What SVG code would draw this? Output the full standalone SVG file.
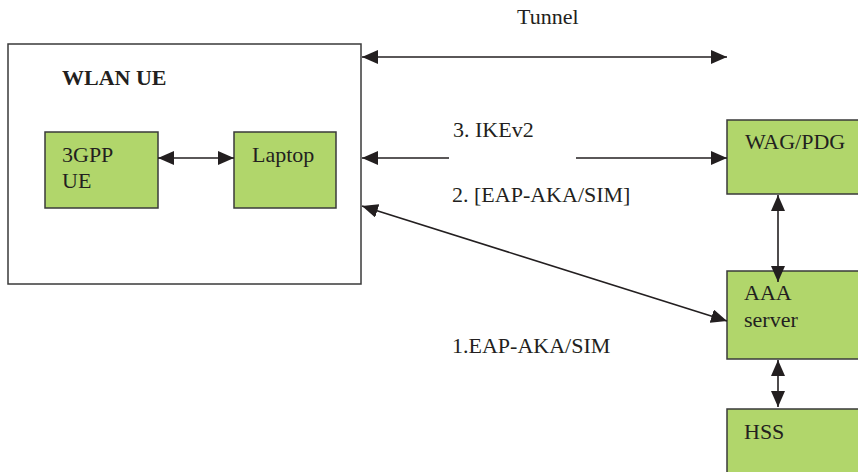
<svg xmlns="http://www.w3.org/2000/svg" width="858" height="472" viewBox="0 0 858 472">
<style>
.t{font-family:"Liberation Serif","Times New Roman",serif;font-size:22px;fill:#231f20}
.b{font-weight:bold}
.box{fill:#b1d66b;stroke:#3a3a3a;stroke-width:1.5}
.frame{fill:#fff;stroke:#3a3a3a;stroke-width:1.5}
.c{stroke:#231f20;stroke-width:1.6;fill:none}
.both{marker-start:url(#as);marker-end:url(#ae)}
</style>
<defs>
<marker id="ae" markerUnits="userSpaceOnUse" markerWidth="16" markerHeight="14" refX="16" refY="7" orient="auto"><path d="M0,0 L16,7 L0,14 Z" fill="#231f20"/></marker>
<marker id="as" markerUnits="userSpaceOnUse" markerWidth="16" markerHeight="14" refX="0" refY="7" orient="auto"><path d="M16,0 L0,7 L16,14 Z" fill="#231f20"/></marker>
</defs>
<rect width="858" height="472" fill="#fff"/>
<g id="wlan-ue">
<rect class="frame" x="8" y="44" width="353" height="240"/>
<text class="t b" x="62" y="85">WLAN UE</text>
</g>
<g id="ue3gpp">
<rect class="box" x="45" y="132" width="113" height="76"/>
<text class="t" x="62" y="162">3GPP</text>
<text class="t" x="62" y="188">UE</text>
</g>
<g id="laptop">
<rect class="box" x="234" y="132" width="102" height="76"/>
<text class="t" x="252" y="162">Laptop</text>
</g>
<g id="wag">
<rect class="box" x="727" y="120" width="140" height="74"/>
<text class="t" x="745" y="149">WAG/PDG</text>
</g>
<g id="aaa">
<rect class="box" x="727" y="271" width="140" height="88"/>
<text class="t" x="744" y="300">AAA</text>
<text class="t" x="744" y="327">server</text>
</g>
<g id="hss">
<rect class="box" x="727" y="409" width="140" height="70"/>
<text class="t" x="744" y="439">HSS</text>
</g>
<g id="connectors">
<line class="c both" x1="158" y1="158" x2="234" y2="158"/>
<line class="c both" x1="362" y1="57" x2="727" y2="57"/>
<line class="c" x1="362" y1="158" x2="449" y2="158" marker-start="url(#as)"/>
<line class="c" x1="576" y1="158" x2="727" y2="158" marker-end="url(#ae)"/>
<line class="c both" x1="362" y1="206" x2="727" y2="321"/>
<line class="c both" x1="778" y1="195" x2="778" y2="282"/>
<line class="c both" x1="778" y1="360" x2="778" y2="407"/>
</g>
<g id="labels">
<text class="t" x="517" y="24">Tunnel</text>
<text class="t" x="453" y="137">3. IKEv2</text>
<text class="t" x="452" y="202">2. [EAP-AKA/SIM]</text>
<text class="t" x="452" y="353">1.EAP-AKA/SIM</text>
</g>
</svg>
